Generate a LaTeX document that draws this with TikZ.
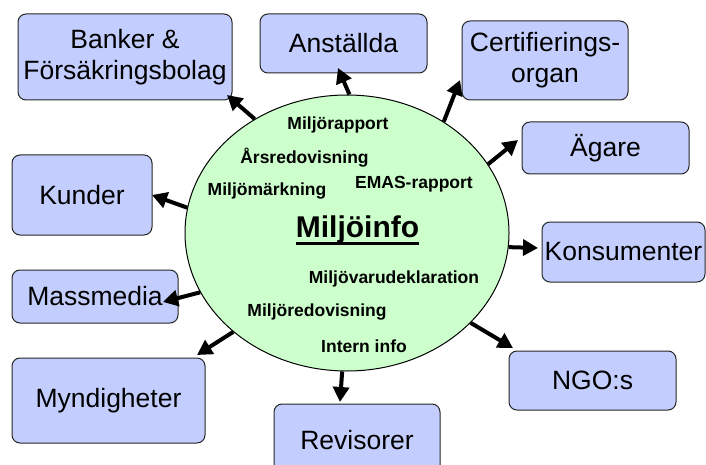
\documentclass[tikz,border=0pt]{standalone}
\usepackage{fontspec}
\setmainfont{Liberation Sans}
\usetikzlibrary{arrows.meta,shapes.geometric}
\definecolor{boxblue}{RGB}{195,206,255}
\definecolor{ellgreen}{RGB}{204,255,204}
\begin{document}
\begin{tikzpicture}[x=1pt,y=-1pt,
  box/.style={draw=black!85, line width=1pt, fill=boxblue, rounded corners=8pt,
    font=\fontsize{26.5}{31}\selectfont, align=center, inner sep=0pt},
  small/.style={font=\fontsize{17.5}{20}\selectfont\bfseries, inner sep=0pt},
  arr/.style={line width=4pt, -{Triangle[length=15pt,width=16pt]}}]
\useasboundingbox (0,0) rectangle (706,465);
% central ellipse
\node[draw=black, line width=1pt, fill=ellgreen, ellipse, minimum width=324pt, minimum height=276pt, inner sep=0pt] (ell) at (347,233) {};
% boxes
\node[box, minimum width=214pt, minimum height=86pt] (bank) at (125,57) {Banker \&\\Försäkringsbolag};
\node[box, minimum width=167pt, minimum height=59pt] (anst) at (343.5,43.5) {Anställda};
\node[box, minimum width=166pt, minimum height=79pt] (cert) at (545,60.5) {Certifierings-\\organ};
\node[box, minimum width=167pt, minimum height=52pt] (agare) at (605.5,148) {Ägare};
\node[box, minimum width=163pt, minimum height=60pt] (kons) at (623.5,252) {Konsumenter};
\node[box, minimum width=167pt, minimum height=59pt] (ngo) at (592.5,380.5) {NGO:s};
\node[box, minimum width=166pt, minimum height=72pt] (rev) at (357,440) {Revisorer};
\node[box, minimum width=193pt, minimum height=85pt] (mynd) at (108.5,400.5) {Myndigheter};
\node[box, minimum width=166pt, minimum height=53pt] (mass) at (95,296.5) {Massmedia};
\node[box, minimum width=140pt, minimum height=80pt] (kund) at (82,195) {Kunder};
% texts inside ellipse
\node[small] (t1) at (338,125) {Miljörapport};
\node[small] (t2) at (304.5,158) {Årsredovisning};
\node[small] (t3) at (267,191) {Miljömärkning};
\node[small] (t4) at (414,184) {EMAS-rapport};
\node[font=\fontsize{30}{34}\selectfont\bfseries, inner sep=0pt, anchor=base] (info) at (357.5,237) {Miljöinfo};
\draw[line width=3pt] ([yshift=-6pt]info.base west) -- ([yshift=-6pt]info.base east);
\node[small] (t5) at (394,279) {Miljövarudeklaration};
\node[small] (t6) at (317,312) {Miljöredovisning};
\node[small] (t7) at (364,346) {Intern info};
% arrow tips
\coordinate (pbank) at (227,95);
\coordinate (panst) at (338,68);
\coordinate (pcert) at (460,80);
\coordinate (pagare) at (518,140);
\coordinate (pkons) at (538,248);
\coordinate (pngo) at (513,348);
\coordinate (prev) at (340,402);
\coordinate (pmynd) at (197,355);
\coordinate (pmass) at (163,302);
\coordinate (pkund) at (152,195);
% arrows
\draw[arr] (ell.129.9) -- (pbank);
\draw[arr] (ell.89.2) -- (panst);
\draw[arr] (ell.49.1) -- (pcert);
\draw[arr] (ell.26.1) -- (pagare);
\draw[arr] (ell.-5.3) -- (pkons);
\draw[arr] (ell.-36.8) -- (pngo);
\draw[arr] (ell.-92.9) -- (prev);
\draw[arr] (ell.221.8) -- (pmynd);
\draw[arr] (ell.202.1) -- (pmass);
\draw[arr] (ell.171.8) -- (pkund);
\end{tikzpicture}
\end{document}
